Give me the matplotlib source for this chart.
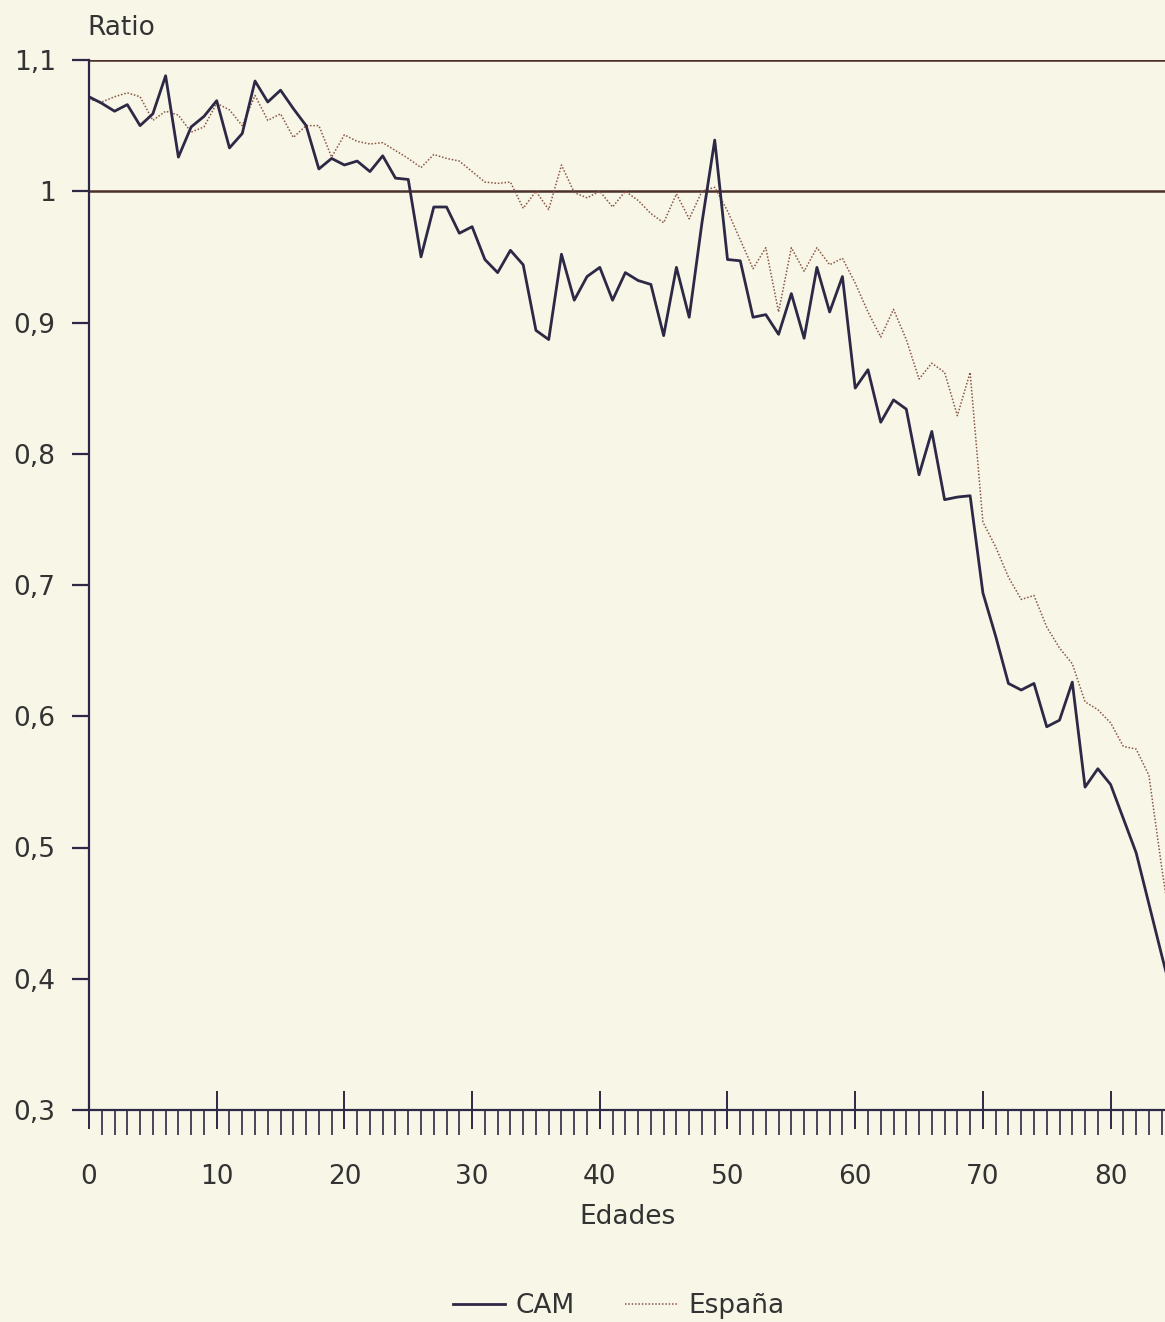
import matplotlib.pyplot as plt
from matplotlib.ticker import MultipleLocator, FixedLocator

# edades 0..85 (el grafico se corta hacia los 84 anos)
edades = list(range(0, 86))

cam = [1.072, 1.067, 1.061, 1.066, 1.050, 1.059, 1.088, 1.026, 1.049, 1.057,
       1.069, 1.033, 1.044, 1.084, 1.068, 1.077, 1.063, 1.050, 1.017, 1.025,
       1.020, 1.023, 1.015, 1.027, 1.010, 1.009, 0.950, 0.988, 0.988, 0.968,
       0.973, 0.948, 0.938, 0.955, 0.944, 0.894, 0.887, 0.952, 0.917, 0.935,
       0.942, 0.917, 0.938, 0.932, 0.929, 0.890, 0.942, 0.904, 0.976, 1.039,
       0.948, 0.947, 0.904, 0.906, 0.891, 0.922, 0.888, 0.942, 0.908, 0.935,
       0.850, 0.864, 0.824, 0.841, 0.834, 0.784, 0.817, 0.765, 0.767, 0.768,
       0.694, 0.661, 0.625, 0.620, 0.625, 0.592, 0.597, 0.626, 0.546, 0.560,
       0.548, 0.522, 0.496, 0.457, 0.418, 0.380]

espana = [1.070, 1.068, 1.072, 1.075, 1.072, 1.054, 1.061, 1.058, 1.045, 1.049,
          1.067, 1.062, 1.050, 1.073, 1.054, 1.059, 1.041, 1.050, 1.050, 1.026,
          1.043, 1.038, 1.036, 1.037, 1.031, 1.025, 1.018, 1.028, 1.025, 1.023,
          1.015, 1.007, 1.006, 1.007, 0.987, 1.000, 0.986, 1.020, 0.999, 0.995,
          1.000, 0.988, 1.000, 0.993, 0.983, 0.976, 0.998, 0.979, 1.000, 1.003,
          0.985, 0.963, 0.941, 0.957, 0.908, 0.957, 0.939, 0.957, 0.944, 0.949,
          0.930, 0.908, 0.889, 0.910, 0.887, 0.857, 0.869, 0.862, 0.829, 0.862,
          0.748, 0.729, 0.706, 0.689, 0.692, 0.668, 0.652, 0.640, 0.611, 0.605,
          0.595, 0.577, 0.575, 0.555, 0.485, 0.420]

yticks = [0.3, 0.4, 0.5, 0.6, 0.7, 0.8, 0.9, 1.0, 1.1]
ylabels = ["0,3", "0,4", "0,5", "0,6", "0,7", "0,8", "0,9", "1", "1,1"]
xticks = [0, 10, 20, 30, 40, 50, 60, 70, 80]
ref_lines = [1.0, 1.1]

papel = "#f8f6e7"
tinta = "#2d2845"
marron = "#4a302c"
texto = "#333333"

plt.rcParams["font.family"] = ["DejaVu Sans"]

fig = plt.figure(figsize=(11.65, 13.22), dpi=100, facecolor=papel)
ax = fig.add_axes([89 / 1165, 1 - 1110 / 1322, 1 - 89 / 1165, (1110 - 60) / 1322])
ax.set_facecolor(papel)

for y in ref_lines:
    ax.axhline(y, color=marron, lw=1.8, zorder=1)

ax.plot(edades, espana, color="#8a5646", lw=1.1, ls=(0, (1, 1.2)), label="España", zorder=2)
ax.plot(edades, cam, color=tinta, lw=2.0, label="CAM", zorder=3)

ax.set_xlim(0, (1165 - 89) / 12.77)
ax.set_ylim(0.3, 1.1)

for s in ["top", "right"]:
    ax.spines[s].set_visible(False)
for s in ["left", "bottom"]:
    ax.spines[s].set_color(tinta)
    ax.spines[s].set_linewidth(1.6)

ax.set_yticks(yticks)
ax.set_yticklabels(ylabels)
ax.xaxis.set_major_locator(FixedLocator(xticks))
ax.xaxis.set_minor_locator(MultipleLocator(1))
ax.tick_params(axis="y", direction="out", length=12, width=1.6, color=tinta,
               labelsize=19, labelcolor=texto, pad=12)
ax.tick_params(axis="x", which="major", direction="inout", length=28, width=1.4,
               color=tinta, labelsize=19, labelcolor=texto, pad=25)
ax.tick_params(axis="x", which="minor", direction="out", length=18, width=1.2, color=tinta)

ax.set_xlabel("Edades", fontsize=19, color=texto, labelpad=10)
fig.text(87 / 1165, 1 - 28 / 1322, "Ratio", fontsize=19, color=texto,
         ha="left", va="center")

handles, labels = ax.get_legend_handles_labels()
fig.legend(handles[::-1], labels[::-1], loc="center", bbox_to_anchor=(0.531, 0.012),
           ncol=2, frameon=False, fontsize=19, handlelength=2.0, handletextpad=0.4,
           columnspacing=1.9, labelcolor=texto)

fig.savefig("out.png", dpi=100, facecolor=papel)
